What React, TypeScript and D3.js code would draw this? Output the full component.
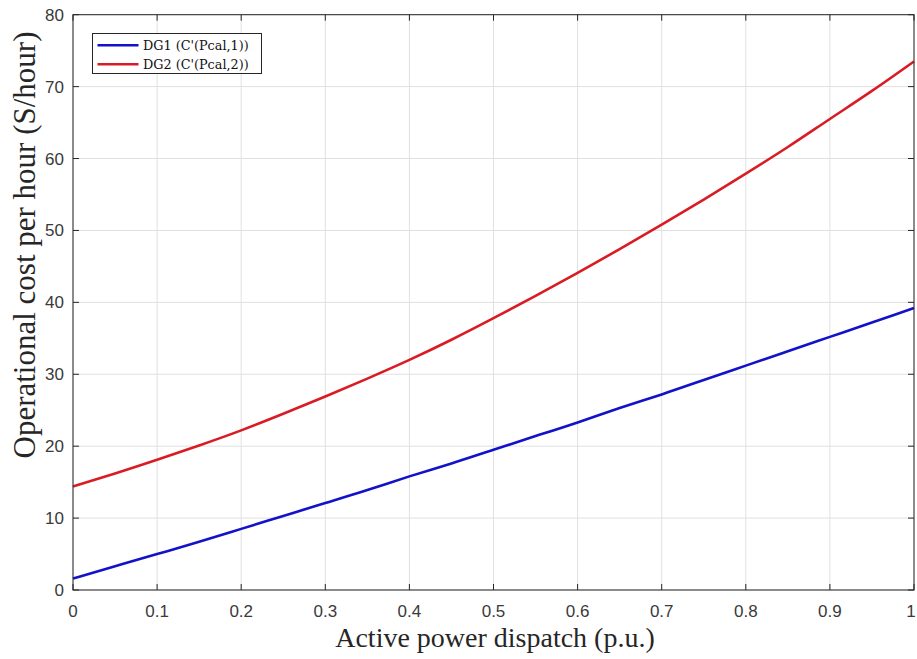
import React from "react";
import * as d3 from "d3";

const xValues = [0, 0.05, 0.1, 0.15, 0.2, 0.25, 0.3, 0.35, 0.4, 0.45, 0.5, 0.55, 0.6, 0.65, 0.7, 0.75, 0.8, 0.85, 0.9, 0.95, 1.0];
const dg1 = [1.6, 3.3, 5.0, 6.7, 8.5, 10.3, 12.1, 13.9, 15.8, 17.6, 19.5, 21.4, 23.3, 25.3, 27.2, 29.2, 31.2, 33.2, 35.2, 37.2, 39.2];
const dg2 = [14.4, 16.2, 18.1, 20.1, 22.2, 24.5, 26.9, 29.4, 32.0, 34.8, 37.8, 40.9, 44.1, 47.4, 50.8, 54.3, 57.9, 61.6, 65.5, 69.4, 73.5];
const xTicks = [0, 0.1, 0.2, 0.3, 0.4, 0.5, 0.6, 0.7, 0.8, 0.9, 1];
const yTicks = [0, 10, 20, 30, 40, 50, 60, 70, 80];
const seriesNames = ["DG1 (C'(Pcal,1))", "DG2 (C'(Pcal,2))"];
const seriesColors = ["#1212c8", "#d91c24"];

const W = 917;
const H = 659;
const L = 73, R = 914, T = 14.7, B = 590;

export default function App() {
  const x = d3.scaleLinear().domain([0, 1]).range([L, R]);
  const y = d3.scaleLinear().domain([0, 80]).range([B, T]);
  const line = d3
    .line<number>()
    .x((_, i) => x(xValues[i]))
    .y((d) => y(d))
    .curve(d3.curveNatural);
  const series = [dg1, dg2];
  const tickFont = "'Liberation Sans', Arial, sans-serif";
  const serif = "'Liberation Serif', 'Times New Roman', serif";
  return (
    <svg width={W} height={H} style={{ position: "absolute", left: 0, top: 0, background: "#fff" }}>
      <rect x={0} y={0} width={W} height={H} fill="#fff" />
      {/* grid */}
      {xTicks.map((t) => (
        <line key={"gx" + t} x1={x(t)} x2={x(t)} y1={T} y2={B} stroke="#e0e0e0" strokeWidth={1} />
      ))}
      {yTicks.map((t) => (
        <line key={"gy" + t} x1={L} x2={R} y1={y(t)} y2={y(t)} stroke="#e0e0e0" strokeWidth={1} />
      ))}
      {/* ticks */}
      {xTicks.map((t) => (
        <g key={"tx" + t}>
          <line x1={x(t)} x2={x(t)} y1={B} y2={B - 6} stroke="#262626" strokeWidth={1} />
          <line x1={x(t)} x2={x(t)} y1={T} y2={T + 6} stroke="#262626" strokeWidth={1} />
          <text x={Math.min(x(t), W - 6)} y={B + 26.5} textAnchor="middle" fontFamily={tickFont} fontSize={17} fill="#3a3a3a">
            {String(t)}
          </text>
        </g>
      ))}
      {yTicks.map((t) => (
        <g key={"ty" + t}>
          <line x1={L} x2={L + 6} y1={y(t)} y2={y(t)} stroke="#262626" strokeWidth={1} />
          <line x1={R} x2={R - 6} y1={y(t)} y2={y(t)} stroke="#262626" strokeWidth={1} />
          <text x={L - 9} y={y(t) + 6} textAnchor="end" fontFamily={tickFont} fontSize={17} fill="#3a3a3a">
            {String(t)}
          </text>
        </g>
      ))}
      {/* lines */}
      {series.map((s, i) => (
        <path key={"s" + i} d={line(s) || ""} fill="none" stroke={seriesColors[i]} strokeWidth={2.6} />
      ))}
      {/* box */}
      <rect x={L} y={T} width={R - L} height={B - T} fill="none" stroke="#262626" strokeWidth={1} />
      {/* legend */}
      <rect x={92.5} y={33.5} width={169} height={40} fill="#fff" stroke="#262626" strokeWidth={1} />
      {seriesNames.map((n, i) => (
        <g key={"lg" + i}>
          <line x1={97.5} x2={138.5} y1={45.3 + i * 19} y2={45.3 + i * 19} stroke={seriesColors[i]} strokeWidth={2.6} />
          <text x={143} y={49.5 + i * 19} fontFamily="'DejaVu Serif', serif" fontSize={12.8} fill="#111">
            {n}
          </text>
        </g>
      ))}
      {/* axis labels */}
      <text x={495} y={647} textAnchor="middle" fontFamily={serif} fontSize={28} fill="#262626">
        Active power dispatch (p.u.)
      </text>
      <text
        transform={`translate(35, 245) rotate(-90)`}
        textAnchor="middle"
        fontFamily={serif}
        fontSize={31}
        fill="#262626"
      >
        Operational cost per hour (S/hour)
      </text>
    </svg>
  );
}
